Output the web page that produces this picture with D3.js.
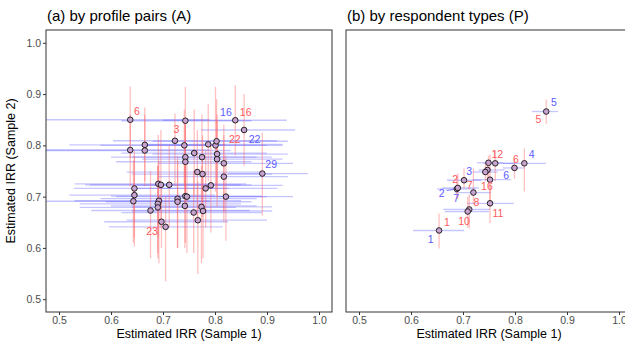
<!DOCTYPE html>
<html>
<head>
<meta charset="utf-8">
<script src="https://cdn.jsdelivr.net/npm/d3@7"></script>
<style>
  body { margin: 0; background: #fff; }
  svg { font-family: "Liberation Sans", Arial, sans-serif; }
</style>
</head>
<body>
<svg id="chart" width="625" height="345"></svg>
<script>
// panel (a): profile pairs, point estimate + CI in both samples
var pairX  = [0.637,0.743,0.723,0.741,0.665,0.665,0.637,0.743,0.743,0.691,0.696,0.712,0.645,0.839,0.856,0.787,0.801,0.803,0.760,0.775,0.804,0.804,0.817,0.891,0.766,0.776,0.817,0.792,0.782,0.645,0.643,0.692,0.690,0.690,0.676,0.728,0.728,0.743,0.746,0.742,0.697,0.705,0.821,0.774,0.759,0.777,0.767];
var pairY  = [0.850,0.848,0.809,0.800,0.801,0.790,0.791,0.777,0.768,0.725,0.723,0.723,0.716,0.849,0.830,0.802,0.800,0.808,0.785,0.777,0.783,0.773,0.765,0.745,0.748,0.744,0.739,0.722,0.716,0.703,0.691,0.692,0.686,0.679,0.673,0.696,0.690,0.701,0.700,0.682,0.651,0.641,0.700,0.680,0.669,0.672,0.654];
var pairXlo = [0.470,0.620,0.604,0.580,0.520,0.470,0.470,0.600,0.610,0.530,0.550,0.560,0.529,0.700,0.773,0.660,0.670,0.680,0.620,0.640,0.680,0.660,0.690,0.825,0.630,0.640,0.690,0.650,0.640,0.520,0.470,0.530,0.540,0.540,0.562,0.580,0.590,0.600,0.610,0.600,0.587,0.596,0.690,0.640,0.620,0.640,0.630];
var pairXhi = [0.790,0.870,0.919,0.900,0.820,0.830,0.790,0.880,0.870,0.860,0.850,0.870,0.827,0.938,0.954,0.930,0.930,0.940,0.900,0.910,0.940,0.930,0.950,0.979,0.890,0.910,0.940,0.930,0.920,0.800,0.790,0.850,0.850,0.840,0.867,0.880,0.870,0.890,0.900,0.880,0.825,0.815,0.950,0.910,0.890,0.910,0.900];
var pairYlo = [0.775,0.780,0.720,0.720,0.730,0.720,0.720,0.700,0.690,0.620,0.640,0.640,0.603,0.780,0.760,0.730,0.710,0.720,0.700,0.690,0.700,0.680,0.670,0.663,0.650,0.660,0.650,0.630,0.640,0.620,0.610,0.570,0.580,0.590,0.580,0.600,0.600,0.610,0.590,0.600,0.600,0.535,0.614,0.570,0.590,0.580,0.549];
var pairYhi = [0.915,0.914,0.862,0.870,0.874,0.860,0.860,0.850,0.840,0.820,0.830,0.800,0.790,0.917,0.900,0.880,0.914,0.890,0.870,0.860,0.860,0.850,0.840,0.825,0.830,0.820,0.820,0.800,0.790,0.780,0.770,0.770,0.760,0.760,0.750,0.780,0.770,0.780,0.780,0.760,0.720,0.700,0.780,0.760,0.750,0.750,0.730];
var pairLabels = [
  {text: "6",  sample: 2, x: 0.650, y: 0.866},
  {text: "3",  sample: 2, x: 0.726, y: 0.831},
  {text: "16", sample: 1, x: 0.821, y: 0.864},
  {text: "16", sample: 2, x: 0.859, y: 0.864},
  {text: "22", sample: 2, x: 0.838, y: 0.812},
  {text: "22", sample: 1, x: 0.876, y: 0.812},
  {text: "29", sample: 1, x: 0.908, y: 0.763},
  {text: "23", sample: 2, x: 0.679, y: 0.632}
];

// panel (b): respondent types
var typeX  = [0.860,0.749,0.762,0.799,0.818,0.747,0.743,0.702,0.752,0.688,0.690,0.720,0.752,0.712,0.709,0.654];
var typeY  = [0.866,0.766,0.765,0.756,0.765,0.752,0.748,0.732,0.733,0.715,0.717,0.708,0.687,0.675,0.671,0.634];
var typeXlo = [0.833,0.727,0.740,0.777,0.777,0.730,0.719,0.669,0.719,0.650,0.660,0.685,0.708,0.662,0.665,0.604];
var typeXhi = [0.883,0.777,0.800,0.819,0.860,0.780,0.767,0.735,0.792,0.725,0.731,0.754,0.798,0.752,0.750,0.702];
var typeYlo = [0.842,0.733,0.730,0.735,0.710,0.730,0.730,0.716,0.690,0.695,0.696,0.685,0.648,0.638,0.640,0.599];
var typeYhi = [0.889,0.780,0.790,0.775,0.794,0.770,0.765,0.755,0.782,0.740,0.745,0.755,0.730,0.704,0.700,0.667];
var typeLabels = [
  {text: "5",  sample: 1, x: 0.875, y: 0.883},
  {text: "5",  sample: 2, x: 0.845, y: 0.851},
  {text: "12", sample: 2, x: 0.766, y: 0.783},
  {text: "6",  sample: 2, x: 0.802, y: 0.773},
  {text: "4",  sample: 1, x: 0.832, y: 0.782},
  {text: "3",  sample: 1, x: 0.712, y: 0.750},
  {text: "2",  sample: 2, x: 0.685, y: 0.734},
  {text: "6",  sample: 1, x: 0.783, y: 0.741},
  {text: "7",  sample: 2, x: 0.713, y: 0.722},
  {text: "16", sample: 2, x: 0.746, y: 0.721},
  {text: "2",  sample: 1, x: 0.659, y: 0.706, px: 0.688, py: 0.715},
  {text: "7",  sample: 1, x: 0.687, y: 0.696},
  {text: "8",  sample: 2, x: 0.726, y: 0.689},
  {text: "11", sample: 2, x: 0.767, y: 0.668},
  {text: "10", sample: 2, x: 0.702, y: 0.652},
  {text: "1",  sample: 2, x: 0.669, y: 0.650},
  {text: "1",  sample: 1, x: 0.638, y: 0.617}
];

var ticks = [0.5, 0.6, 0.7, 0.8, 0.9, 1.0];
var blue = "#5b5bff", red = "#ff5a5a";

var svg = d3.select("#chart");
var panelTop = 30, panelBottom = 312;

var yScale = d3.scaleLinear().domain([0.475, 1.025]).range([panelBottom, panelTop]);

function toRows(xs, ys, xlo, xhi, ylo, yhi) {
  return xs.map(function (d, i) {
    return {x: d, y: ys[i], xlo: xlo[i], xhi: xhi[i], ylo: ylo[i], yhi: yhi[i]};
  });
}

function drawPanel(left, right, title, rows, labels, showY, id) {
  var xScale = d3.scaleLinear().domain([0.475, 1.025]).range([left, right]);

  svg.append("clipPath").attr("id", id)
    .append("rect").attr("x", left).attr("y", panelTop)
    .attr("width", right - left).attr("height", panelBottom - panelTop);

  var g = svg.append("g");
  var inner = g.append("g").attr("clip-path", "url(#" + id + ")");

  inner.selectAll("line.h").data(rows).enter().append("line")
    .attr("class", "h")
    .attr("x1", function (d) { return xScale(d.xlo); })
    .attr("x2", function (d) { return xScale(d.xhi); })
    .attr("y1", function (d) { return yScale(d.y); })
    .attr("y2", function (d) { return yScale(d.y); })
    .attr("stroke", blue).attr("stroke-opacity", 0.35).attr("stroke-width", 1.3);

  inner.selectAll("line.v").data(rows).enter().append("line")
    .attr("class", "v")
    .attr("x1", function (d) { return xScale(d.x); })
    .attr("x2", function (d) { return xScale(d.x); })
    .attr("y1", function (d) { return yScale(d.ylo); })
    .attr("y2", function (d) { return yScale(d.yhi); })
    .attr("stroke", red).attr("stroke-opacity", 0.38).attr("stroke-width", 1.3);

  // label connector segments
  inner.selectAll("line.seg").data(labels.filter(function (d) { return d.px; })).enter().append("line")
    .attr("class", "seg")
    .attr("x1", function (d) { return xScale(d.x) + 5; })
    .attr("y1", function (d) { return yScale(d.y) - 3; })
    .attr("x2", function (d) { return xScale(d.px); })
    .attr("y2", function (d) { return yScale(d.py); })
    .attr("stroke", blue).attr("stroke-width", 0.8);

  inner.selectAll("circle").data(rows).enter().append("circle")
    .attr("cx", function (d) { return xScale(d.x); })
    .attr("cy", function (d) { return yScale(d.y); })
    .attr("r", 2.8)
    .attr("fill", "#c9a3cf").attr("stroke", "#111").attr("stroke-width", 0.9);

  inner.selectAll("text.lab").data(labels).enter().append("text")
    .attr("class", "lab")
    .attr("x", function (d) { return xScale(d.x); })
    .attr("y", function (d) { return yScale(d.y); })
    .attr("dy", "0.35em")
    .attr("text-anchor", "middle")
    .attr("font-size", 10.5)
    .attr("fill", function (d) { return d.sample == 1 ? blue : red; })
    .text(function (d) { return d.text; });

  // border
  g.append("rect").attr("x", left).attr("y", panelTop)
    .attr("width", right - left).attr("height", panelBottom - panelTop)
    .attr("fill", "none").attr("stroke", "#333").attr("stroke-width", 1);

  var xAxis = g.append("g").attr("transform", "translate(0," + panelBottom + ")")
    .call(d3.axisBottom(xScale).tickValues(ticks).tickFormat(d3.format(".1f")).tickSize(3).tickPadding(2));
  xAxis.select(".domain").remove();
  xAxis.selectAll("line").attr("stroke", "#333");
  xAxis.selectAll("text").attr("fill", "#4d4d4d").attr("font-size", 10.5).attr("font-family", "Liberation Sans, Arial, sans-serif");

  if (showY) {
    var yAxis = g.append("g").attr("transform", "translate(" + left + ",0)")
      .call(d3.axisLeft(yScale).tickValues(ticks).tickFormat(d3.format(".1f")).tickSize(3).tickPadding(2));
    yAxis.select(".domain").remove();
    yAxis.selectAll("line").attr("stroke", "#333");
    yAxis.selectAll("text").attr("fill", "#4d4d4d").attr("font-size", 10.5).attr("font-family", "Liberation Sans, Arial, sans-serif");
  }

  g.append("text").attr("x", left + 1).attr("y", 21)
    .attr("font-size", 15).attr("fill", "#000").text(title);

  g.append("text").attr("x", (left + right) / 2)
    .attr("y", 338).attr("text-anchor", "middle")
    .attr("font-size", 12.5).attr("fill", "#000").text("Estimated IRR (Sample 1)");
}

drawPanel(46, 332, "(a) by profile pairs (A)",
  toRows(pairX, pairY, pairXlo, pairXhi, pairYlo, pairYhi), pairLabels, true, "clipA");
drawPanel(346, 632, "(b) by respondent types (P)",
  toRows(typeX, typeY, typeXlo, typeXhi, typeYlo, typeYhi), typeLabels, false, "clipB");

svg.append("text")
  .attr("transform", "translate(15," + ((panelTop + panelBottom) / 2) + ") rotate(-90)")
  .attr("text-anchor", "middle").attr("font-size", 12.5).attr("fill", "#000")
  .text("Estimated IRR (Sample 2)");
</script>
</body>
</html>
